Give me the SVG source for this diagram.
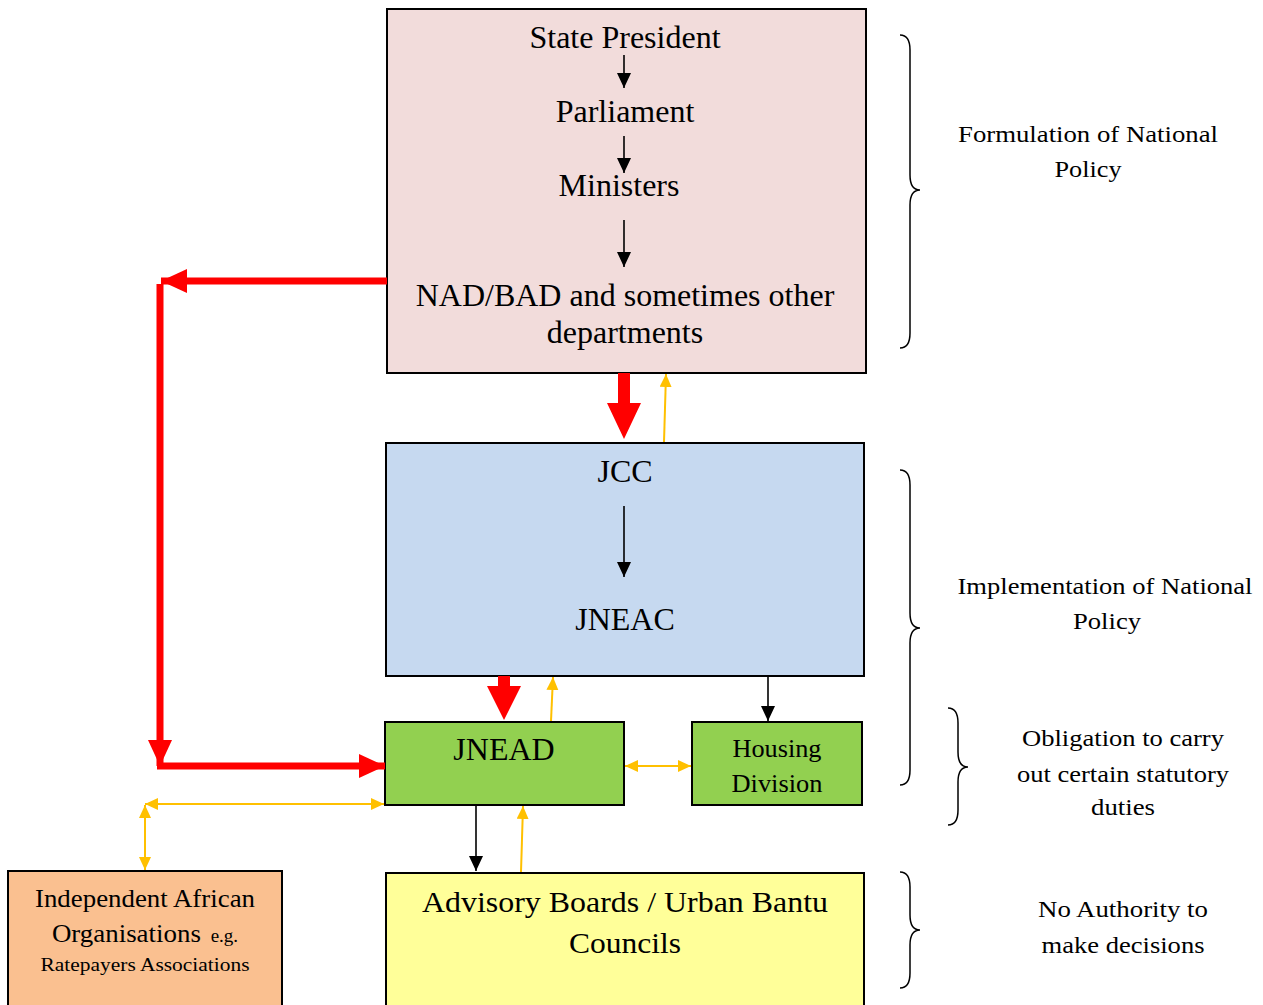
<svg xmlns="http://www.w3.org/2000/svg" width="1263" height="1005" viewBox="0 0 1263 1005">
<style>
.box{stroke:#000;stroke-width:2}
.t{font-family:"Liberation Serif","Times New Roman",serif;fill:#000;text-anchor:middle}
.big{font-size:32px}
.side{font-size:23px}
.blk{stroke:#000;stroke-width:1.6;fill:none}
.yel{stroke:#ffc000;stroke-width:2;fill:none}
.red{stroke:#ff0000;stroke-width:7;fill:none}
.brace{stroke:#000;stroke-width:1.5;fill:none}
</style>
<defs>
<marker id="ab" markerUnits="userSpaceOnUse" markerWidth="16" markerHeight="16" refX="15" refY="7" orient="auto"><path d="M0,0 L15,7 L0,14 Z" fill="#000"/></marker>
<marker id="ay" markerUnits="userSpaceOnUse" markerWidth="14" markerHeight="14" refX="13" refY="6" orient="auto"><path d="M0,0 L13,6 L0,12 Z" fill="#ffc000"/></marker>
<marker id="ays" markerUnits="userSpaceOnUse" markerWidth="14" markerHeight="14" refX="0" refY="6" orient="auto"><path d="M13,0 L0,6 L13,12 Z" fill="#ffc000"/></marker>
<marker id="ar" markerUnits="userSpaceOnUse" markerWidth="28" markerHeight="26" refX="26" refY="12" orient="auto"><path d="M0,0 L26,12 L0,24 Z" fill="#ff0000"/></marker>
</defs>

<g id="formulation">
<rect class="box" x="387" y="9" width="479" height="364" fill="#f2dcdb"/>
<text class="t big" x="625" y="48">State President</text>
<text class="t big" x="625" y="122">Parliament</text>
<text class="t big" x="619" y="196">Ministers</text>
<text class="t big" x="625" y="306">NAD/BAD and sometimes other</text>
<text class="t big" x="625" y="343">departments</text>
<line class="blk" x1="624" y1="55" x2="624" y2="88" marker-end="url(#ab)"/>
<line class="blk" x1="624" y1="136" x2="624" y2="173" marker-end="url(#ab)"/>
<line class="blk" x1="624" y1="220" x2="624" y2="267" marker-end="url(#ab)"/>
</g>

<g id="implementation">
<rect class="box" x="386" y="443" width="478" height="233" fill="#c6d9f0"/>
<text class="t big" x="625" y="482">JCC</text>
<text class="t big" x="625" y="630">JNEAC</text>
<line class="blk" x1="624" y1="506" x2="624" y2="577" marker-end="url(#ab)"/>
</g>

<g id="jnead">
<rect class="box" x="385" y="722" width="239" height="83" fill="#92d050"/>
<text class="t big" x="504" y="760">JNEAD</text>
</g>

<g id="housing">
<rect class="box" x="692" y="722" width="170" height="83" fill="#92d050"/>
<text class="t" x="777" y="757" font-size="25" textLength="89" lengthAdjust="spacingAndGlyphs">Housing</text>
<text class="t" x="777" y="792" font-size="25" textLength="91" lengthAdjust="spacingAndGlyphs">Division</text>
</g>

<g id="independent">
<rect class="box" x="8" y="871" width="274" height="140" fill="#fac090"/>
<text class="t" x="145" y="907" font-size="26" textLength="220" lengthAdjust="spacingAndGlyphs">Independent African</text>
<text class="t" x="145" y="942" font-size="26"><tspan textLength="149" lengthAdjust="spacingAndGlyphs">Organisations</tspan><tspan font-size="19" dx="5"> e.g.</tspan></text>
<text class="t" x="145" y="971" font-size="19" textLength="209" lengthAdjust="spacingAndGlyphs">Ratepayers Associations</text>
</g>

<g id="advisory">
<rect class="box" x="386" y="873" width="478" height="140" fill="#ffff99"/>
<text class="t" x="625" y="912" font-size="30" textLength="406" lengthAdjust="spacingAndGlyphs">Advisory Boards / Urban Bantu</text>
<text class="t" x="625" y="953" font-size="30" textLength="112" lengthAdjust="spacingAndGlyphs">Councils</text>
</g>

<g id="connectors">
<!-- red thick arrows -->
<polygon points="618,373 630,373 630,403 641,403 624,439 607,403 618,403" fill="#ff0000"/>
<polygon points="498,676 510,676 510,686 521,686 504,720 487,686 498,686" fill="#ff0000"/>
<line class="red" x1="387" y1="281" x2="161" y2="281" marker-end="url(#ar)"/>
<line class="red" x1="160" y1="284" x2="160" y2="766" marker-end="url(#ar)"/>
<line class="red" x1="157" y1="766" x2="385" y2="766" marker-end="url(#ar)"/>
<!-- black -->
<line class="blk" x1="768" y1="677" x2="768" y2="721" marker-end="url(#ab)"/>
<line class="blk" x1="476" y1="806" x2="476" y2="871" marker-end="url(#ab)"/>
<!-- yellow -->
<line class="yel" x1="664" y1="442" x2="666" y2="374" marker-end="url(#ay)"/>
<line class="yel" x1="551" y1="721" x2="553" y2="677" marker-end="url(#ay)"/>
<line class="yel" x1="521" y1="872" x2="523" y2="806" marker-end="url(#ay)"/>
<line class="yel" x1="625" y1="766" x2="691" y2="766" marker-start="url(#ays)" marker-end="url(#ay)"/>
<line class="yel" x1="145" y1="804" x2="384" y2="804" marker-start="url(#ays)" marker-end="url(#ay)"/>
<line class="yel" x1="145" y1="805" x2="145" y2="870" marker-start="url(#ays)" marker-end="url(#ay)"/>
</g>

<g id="braces">
<path class="brace" d="M900,35 Q910,35 910,50 L910,175 Q910,190 920,190 Q910,190 910,205 L910,333 Q910,348 900,348"/>
<path class="brace" d="M900,470 Q910,470 910,485 L910,613 Q910,628 920,628 Q910,628 910,643 L910,770 Q910,785 900,785"/>
<path class="brace" d="M948,708 Q958,708 958,723 L958,752 Q958,767 968,767 Q958,767 958,782 L958,810 Q958,825 948,825"/>
<path class="brace" d="M900,872 Q910,872 910,887 L910,915 Q910,930 920,930 Q910,930 910,945 L910,973 Q910,988 900,988"/>
</g>

<g id="labels">
<text class="t side" x="1088" y="142" textLength="260" lengthAdjust="spacingAndGlyphs">Formulation of National</text>
<text class="t side" x="1088" y="177" textLength="67" lengthAdjust="spacingAndGlyphs">Policy</text>
<text class="t side" x="1105" y="594" textLength="295" lengthAdjust="spacingAndGlyphs">Implementation of National</text>
<text class="t side" x="1107" y="629" textLength="68" lengthAdjust="spacingAndGlyphs">Policy</text>
<text class="t side" x="1123" y="746" textLength="202" lengthAdjust="spacingAndGlyphs">Obligation to carry</text>
<text class="t side" x="1123" y="782" textLength="212" lengthAdjust="spacingAndGlyphs">out certain statutory</text>
<text class="t side" x="1123" y="815" textLength="64" lengthAdjust="spacingAndGlyphs">duties</text>
<text class="t side" x="1123" y="917" textLength="170" lengthAdjust="spacingAndGlyphs">No Authority to</text>
<text class="t side" x="1123" y="953" textLength="163" lengthAdjust="spacingAndGlyphs">make decisions</text>
</g>
</svg>
